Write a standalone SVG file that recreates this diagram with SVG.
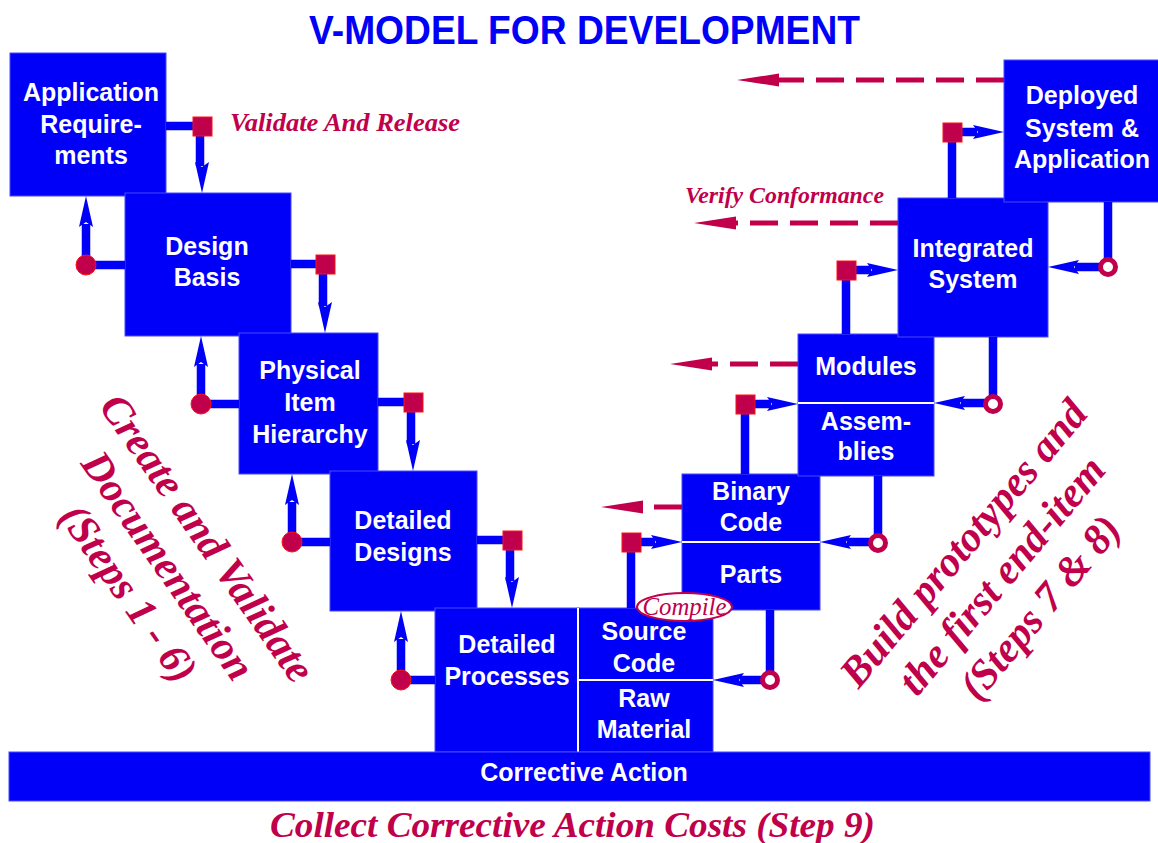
<svg xmlns="http://www.w3.org/2000/svg" xmlns:xlink="http://www.w3.org/1999/xlink" width="1158" height="843" viewBox="0 0 1158 843">
<style>
.box{fill:#0000f8;stroke:#4848ff;stroke-width:1}
.bt{font-family:"Liberation Sans",Arial,sans-serif;font-weight:bold;font-size:25px;fill:#fff;text-anchor:middle}
.div{stroke:#fff;stroke-width:2}
.ln{stroke:#0000f8;stroke-width:8.5;fill:none}
.ah{fill:#0000f8}
.sq{fill:#c0004b;stroke:#ff1010;stroke-width:1}
.dot{fill:#c0004b;stroke:#ff1010;stroke-width:1}
.ring{fill:#fff;stroke:#c0004b;stroke-width:5}
.dash{stroke:#c0004b;stroke-width:5;stroke-dasharray:28 12;fill:none}
.dh{fill:#c0004b}
.it{font-family:"Liberation Serif","Times New Roman",serif;font-style:italic;font-weight:bold;fill:#c0004b}
</style>
<defs>
<path id="ar" d="M0,0 L-31,-7 L-26,0 L-31,7 Z"/>
<path id="da" d="M0,0 L42,-6.5 L42,6.5 Z"/>
</defs>
<rect width="1158" height="843" fill="#fff"/>
<text x="309" y="44" textLength="551" lengthAdjust="spacingAndGlyphs" font-family="Liberation Sans, Arial, sans-serif" font-weight="bold" font-size="40" fill="#0000f8">V-MODEL FOR DEVELOPMENT</text>

<g id="app-req"><rect class="box" x="10" y="53" width="156" height="143"/><text class="bt" x="91" y="101">Application</text><text class="bt" x="91" y="133">Require-</text><text class="bt" x="91" y="164">ments</text></g>
<g id="design-basis"><rect class="box" x="125" y="193" width="166" height="143"/><text class="bt" x="207" y="255">Design</text><text class="bt" x="207" y="286">Basis</text></g>
<g id="phys-item"><rect class="box" x="239" y="333" width="139" height="141"/><text class="bt" x="310" y="379">Physical</text><text class="bt" x="310" y="411">Item</text><text class="bt" x="310" y="443">Hierarchy</text></g>
<g id="detailed-designs"><rect class="box" x="330" y="471" width="147" height="140"/><text class="bt" x="403" y="529">Detailed</text><text class="bt" x="403" y="561">Designs</text></g>
<g id="detailed-processes"><rect class="box" x="435" y="608" width="143" height="144"/><text class="bt" x="507" y="653">Detailed</text><text class="bt" x="507" y="685">Processes</text></g>
<g id="source-raw"><rect class="box" x="578" y="608" width="135" height="144"/><line class="div" x1="578" y1="608" x2="578" y2="752"/><line class="div" x1="579" y1="680" x2="713" y2="680"/><text class="bt" x="644" y="640">Source</text><text class="bt" x="644" y="672">Code</text><text class="bt" x="644" y="707">Raw</text><text class="bt" x="644" y="738">Material</text></g>
<g id="binary-parts"><rect class="box" x="682" y="474" width="138" height="136"/><line class="div" x1="682" y1="542" x2="820" y2="542"/><text class="bt" x="751" y="500">Binary</text><text class="bt" x="751" y="531">Code</text><text class="bt" x="751" y="583">Parts</text></g>
<g id="modules-assemblies"><rect class="box" x="798" y="334" width="136" height="142"/><line class="div" x1="798" y1="403" x2="934" y2="403"/><text class="bt" x="866" y="375">Modules</text><text class="bt" x="866" y="430">Assem-</text><text class="bt" x="866" y="460">blies</text></g>
<g id="integrated"><rect class="box" x="898" y="198" width="150" height="139"/><text class="bt" x="973" y="257">Integrated</text><text class="bt" x="973" y="288">System</text></g>
<g id="deployed"><rect class="box" x="1004" y="60" width="156" height="142"/><text class="bt" x="1082" y="104">Deployed</text><text class="bt" x="1082" y="137">System &amp;</text><text class="bt" x="1082" y="168">Application</text></g>
<g id="corrective"><rect class="box" x="9" y="752" width="1141" height="49"/><text class="bt" x="584" y="781" font-size="26">Corrective Action</text></g>

<g id="connectors">
<path class="ln" d="M166,126 H200 V166"/><use href="#ar" class="ah" transform="translate(202,193) rotate(90)"/><rect class="sq" x="193" y="117" width="19" height="19"/>
<path class="ln" d="M291,264 H323 V306"/><use href="#ar" class="ah" transform="translate(325,333) rotate(90)"/><rect class="sq" x="316" y="255" width="19" height="19"/>
<path class="ln" d="M378,402 H411 V444"/><use href="#ar" class="ah" transform="translate(413,471) rotate(90)"/><rect class="sq" x="404" y="393" width="19" height="19"/>
<path class="ln" d="M477,540 H510 V581"/><use href="#ar" class="ah" transform="translate(512,608) rotate(90)"/><rect class="sq" x="503" y="531" width="19" height="19"/>
<path class="ln" d="M125,265 H86 V224"/><use href="#ar" class="ah" transform="translate(86,196) rotate(-90)"/><circle class="dot" cx="86" cy="265" r="10"/>
<path class="ln" d="M239,404 H201 V364"/><use href="#ar" class="ah" transform="translate(201,336) rotate(-90)"/><circle class="dot" cx="201" cy="404" r="10"/>
<path class="ln" d="M330,542 H292 V502"/><use href="#ar" class="ah" transform="translate(292,474) rotate(-90)"/><circle class="dot" cx="292" cy="542" r="10"/>
<path class="ln" d="M435,680 H401 V639"/><use href="#ar" class="ah" transform="translate(401,611) rotate(-90)"/><circle class="dot" cx="401" cy="680" r="10"/>
<path class="ln" d="M631,608 V542 H655"/><use href="#ar" class="ah" transform="translate(682,542)"/><rect class="sq" x="622" y="533" width="19" height="19"/>
<path class="ln" d="M745,474 V404 H771"/><use href="#ar" class="ah" transform="translate(798,404)"/><rect class="sq" x="736" y="395" width="19" height="19"/>
<path class="ln" d="M846,334 V270 H871"/><use href="#ar" class="ah" transform="translate(898,270)"/><rect class="sq" x="837" y="261" width="19" height="19"/>
<path class="ln" d="M952,198 V132 H977"/><use href="#ar" class="ah" transform="translate(1004,132)"/><rect class="sq" x="943" y="123" width="19" height="19"/>
<path class="ln" d="M770,610 V680 H740"/><use href="#ar" class="ah" transform="translate(713,680) rotate(180)"/><circle class="ring" cx="770" cy="680" r="7.5"/>
<path class="ln" d="M878,476 V542 H847"/><use href="#ar" class="ah" transform="translate(820,542) rotate(180)"/><circle class="ring" cx="878" cy="543" r="7.5"/>
<path class="ln" d="M993,337 V403 H961"/><use href="#ar" class="ah" transform="translate(934,403) rotate(180)"/><circle class="ring" cx="993" cy="404" r="7.5"/>
<path class="ln" d="M1108,202 V267 H1075"/><use href="#ar" class="ah" transform="translate(1048,267) rotate(180)"/><circle class="ring" cx="1108" cy="267" r="7.5"/>
<line class="dash" x1="1004" y1="80" x2="777" y2="80"/><use href="#da" class="dh" transform="translate(737,80)"/>
<line class="dash" x1="898" y1="223" x2="734" y2="223"/><use href="#da" class="dh" transform="translate(694,223)"/>
<line class="dash" x1="798" y1="364" x2="710" y2="364"/><use href="#da" class="dh" transform="translate(670,364)"/>
<line class="dash" x1="682" y1="507" x2="641" y2="507"/><use href="#da" class="dh" transform="translate(601,507)"/>
</g>

<g id="compile"><ellipse cx="684.5" cy="607" rx="47.5" ry="14" fill="#fff" stroke="#c0004b" stroke-width="2"/><text x="684.5" y="615" text-anchor="middle" font-family="Liberation Serif, Times New Roman, serif" font-style="italic" font-size="26" textLength="84" lengthAdjust="spacingAndGlyphs" fill="#c0004b">Compile</text></g>

<g id="labels">
<text class="it" x="230" y="131" font-size="25" textLength="230" lengthAdjust="spacingAndGlyphs">Validate And Release</text>
<text class="it" x="685" y="203" font-size="23" textLength="199" lengthAdjust="spacingAndGlyphs">Verify Conformance</text>
<text class="it" x="270" y="837" font-size="36" textLength="605" lengthAdjust="spacingAndGlyphs">Collect Corrective Action Costs (Step 9)</text>
<g transform="translate(196,546) rotate(55)"><text class="it" font-size="42" text-anchor="middle" x="0" y="0">Create and Validate</text><text class="it" font-size="42" text-anchor="middle" x="0" y="48">Documentation</text><text class="it" font-size="42" text-anchor="middle" x="0" y="96">(Steps 1 - 6)</text></g>
<g transform="translate(974,552) rotate(-50)"><text class="it" font-size="42" text-anchor="middle" x="0" y="0">Build prototypes and</text><text class="it" font-size="42" text-anchor="middle" x="0" y="50">the first end-item</text><text class="it" font-size="42" text-anchor="middle" x="0" y="100">(Steps 7 &amp; 8)</text></g>
</g>
</svg>
